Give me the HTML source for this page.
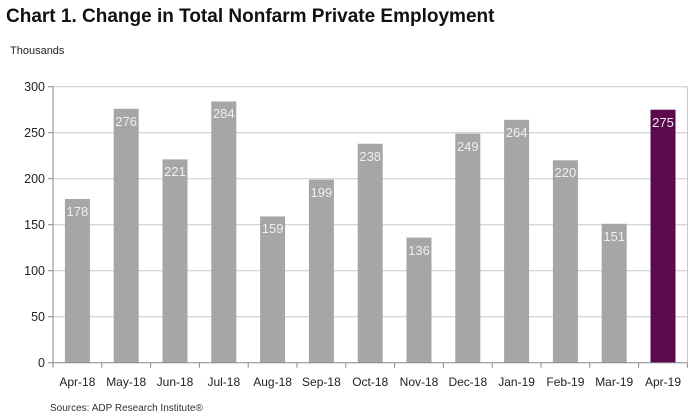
<!DOCTYPE html>
<html><head><meta charset="utf-8"><style>
html,body{margin:0;padding:0;background:#fff;}
svg{display:block;font-family:"Liberation Sans",Arial,sans-serif;}
</style></head><body>
<svg width="700" height="419" viewBox="0 0 700 419" xmlns="http://www.w3.org/2000/svg">
<text x="6" y="22" font-size="19" font-weight="bold" fill="#111">Chart 1. Change in Total Nonfarm Private Employment</text>
<text x="10" y="54" font-size="11" fill="#222">Thousands</text>
<g stroke="#c8c8c8" stroke-width="1">
<line x1="53" y1="86.7" x2="687.5" y2="86.7"/>
<line x1="53" y1="132.7" x2="687.5" y2="132.7"/>
<line x1="53" y1="178.7" x2="687.5" y2="178.7"/>
<line x1="53" y1="224.7" x2="687.5" y2="224.7"/>
<line x1="53" y1="270.7" x2="687.5" y2="270.7"/>
<line x1="53" y1="316.7" x2="687.5" y2="316.7"/>
<line x1="687.5" y1="86.7" x2="687.5" y2="362.7"/>
</g>
<g font-size="12.5" fill="#222" text-anchor="end">
<text x="45" y="91">300</text><text x="45" y="137">250</text><text x="45" y="183">200</text>
<text x="45" y="229">150</text><text x="45" y="275">100</text><text x="45" y="321">50</text><text x="45" y="367">0</text>
</g>
<g fill="#a6a6a6">
<rect x="64.9" y="198.94" width="25" height="163.76"/>
<rect x="113.7" y="108.78" width="25" height="253.92"/>
<rect x="162.5" y="159.38" width="25" height="203.32"/>
<rect x="211.3" y="101.42" width="25" height="261.28"/>
<rect x="260.1" y="216.42" width="25" height="146.28"/>
<rect x="308.9" y="179.62" width="25" height="183.08"/>
<rect x="357.7" y="143.74" width="25" height="218.96"/>
<rect x="406.5" y="237.58" width="25" height="125.12"/>
<rect x="455.3" y="133.62" width="25" height="229.08"/>
<rect x="504.1" y="119.82" width="25" height="242.88"/>
<rect x="552.9" y="160.3" width="25" height="202.4"/>
<rect x="601.7" y="223.78" width="25" height="138.92"/>
<rect x="650.5" y="109.7" width="25" height="253" fill="#5c0a4d"/>
</g>
<g font-size="13" fill="#f0f0f0" text-anchor="middle">
<text x="77.4" y="216">178</text>
<text x="126.2" y="126">276</text>
<text x="175" y="176">221</text>
<text x="223.8" y="118">284</text>
<text x="272.6" y="233">159</text>
<text x="321.4" y="197">199</text>
<text x="370.2" y="161">238</text>
<text x="419" y="255">136</text>
<text x="467.8" y="151">249</text>
<text x="516.6" y="137">264</text>
<text x="565.4" y="177">220</text>
<text x="614.2" y="241">151</text>
<text x="663" y="127">275</text>
</g>
<g font-size="12" fill="#222" text-anchor="middle">
<text x="77.4" y="386">Apr-18</text>
<text x="126.2" y="386">May-18</text>
<text x="175" y="386">Jun-18</text>
<text x="223.8" y="386">Jul-18</text>
<text x="272.6" y="386">Aug-18</text>
<text x="321.4" y="386">Sep-18</text>
<text x="370.2" y="386">Oct-18</text>
<text x="419" y="386">Nov-18</text>
<text x="467.8" y="386">Dec-18</text>
<text x="516.6" y="386">Jan-19</text>
<text x="565.4" y="386">Feb-19</text>
<text x="614.2" y="386">Mar-19</text>
<text x="663" y="386">Apr-19</text>
</g>
<g stroke="#888" stroke-width="1">
<line x1="53" y1="86.7" x2="53" y2="362.7"/>
<line x1="48" y1="362.7" x2="687.5" y2="362.7"/>
<line x1="48" y1="86.7" x2="53" y2="86.7"/>
<line x1="48" y1="132.7" x2="53" y2="132.7"/>
<line x1="48" y1="178.7" x2="53" y2="178.7"/>
<line x1="48" y1="224.7" x2="53" y2="224.7"/>
<line x1="48" y1="270.7" x2="53" y2="270.7"/>
<line x1="48" y1="316.7" x2="53" y2="316.7"/>
<path d="M53 362.7v5M101.8 362.7v5M150.6 362.7v5M199.4 362.7v5M248.2 362.7v5M297 362.7v5M345.8 362.7v5M394.6 362.7v5M443.4 362.7v5M492.2 362.7v5M541 362.7v5M589.8 362.7v5M638.6 362.7v5M687.4 362.7v5"/>
</g>
<text x="50" y="411" font-size="10" fill="#333">Sources: ADP Research Institute®</text>
</svg>
</body></html>
